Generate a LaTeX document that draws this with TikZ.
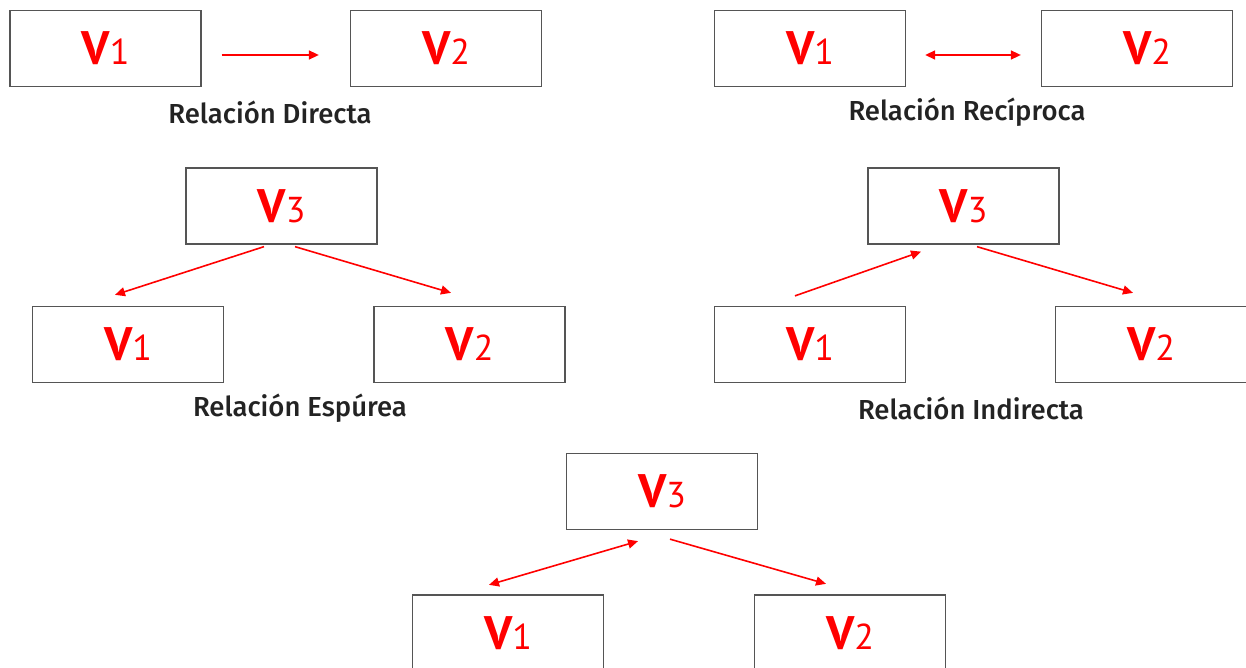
\documentclass[tikz,border=0pt]{standalone}
\usepackage{fontspec}
\setmainfont{PT Sans}
\newfontfamily\labfont{Fira Sans}[UprightFont=* Medium]
\usetikzlibrary{arrows.meta,calc}
\definecolor{vred}{RGB}{255,0,0}
\definecolor{boxgray}{RGB}{85,85,85}
\definecolor{lbl}{RGB}{35,35,35}
\tikzset{
 vbox/.style={draw=boxgray, line width=1.3pt, minimum width=191pt, minimum height=76pt, inner sep=0pt, text=vred, font=\bfseries\fontsize{47}{47}\selectfont},
 rel/.style={vred, line width=1.6pt, -{Triangle[length=10pt,width=9pt]}},
 birel/.style={vred, line width=1.6pt, {Triangle[length=10pt,width=9pt]}-{Triangle[length=10pt,width=9pt]}},
 lab/.style={text=lbl, font=\labfont\fontsize{27.5}{27.5}\selectfont, inner sep=0pt}
}
\newcommand{\vv}[1]{V{\fontsize{36}{36}\selectfont\mdseries #1}}
\begin{document}
\begin{tikzpicture}[x=1pt,y=-1pt]
\useasboundingbox (0,0) rectangle (1246,668);
% Relacion Directa
\node[vbox] (d1) at (105.5,48.5) {\vv{1}};
\node[vbox] (d2) at (446,48.5) {\vv{2}};
\coordinate (da) at ($(d1.east)+(20,6.5)$);
\coordinate (db) at ($(d2.west)+(-31,6.5)$);
\draw[rel] (da) -- (db);
\node[lab] (ld) at (270,112) {Relación Directa};
% Relacion Reciproca
\node[vbox] (r1) at (810,48.5) {\vv{1}};
\node[vbox] (r2) at (1137,48.5) {\hspace*{20pt}\vv{2}};
\coordinate (ra) at ($(r1.east)+(19,6.5)$);
\coordinate (rb) at ($(r2.west)+(-20,6.5)$);
\draw[birel] (ra) -- (rb);
\node[lab] (lr) at (967,112) {Relación Recíproca};
% Relacion Espurea
\node[vbox] (e3) at (281.5,206) {\vv{3}};
\node[vbox] (e1) at (128,344.5) {\vv{1}};
\node[vbox] (e2) at (469.5,344.5) {\vv{2}};
\coordinate (ea) at ($(e3.south)+(-17.5,2)$);
\coordinate (eb) at ($(e1.north)+(-13,-11)$);
\coordinate (ec) at ($(e3.south)+(13.5,2)$);
\coordinate (ed) at ($(e2.north)+(-18.5,-13)$);
\draw[rel] (ea) -- (eb);
\draw[rel] (ec) -- (ed);
\node[lab] (le) at (300,408) {Relación Espúrea};
% Relacion Indirecta
\node[vbox] (i3) at (963.5,206) {\vv{3}};
\node[vbox] (i1) at (810,344.5) {\vv{1}};
\node[vbox] (i2) at (1151,344.5) {\vv{2}};
\coordinate (ia) at ($(i1.north)+(-15,-10)$);
\coordinate (ib) at ($(i3.south)+(-42.5,7)$);
\coordinate (ic) at ($(i3.south)+(13.5,2)$);
\coordinate (id) at ($(i2.north)+(-18,-13)$);
\draw[rel] (ia) -- (ib);
\draw[rel] (ic) -- (id);
\node[lab] (li) at (971,408) {Relación Indirecta};
% Bottom
\node[vbox] (b3) at (662,491.5) {\vv{3}};
\node[vbox] (b1) at (508,633) {\vv{1}};
\node[vbox] (b2) at (850,633) {\vv{2}};
\coordinate (ba) at ($(b1.north)+(-19,-9.5)$);
\coordinate (bb) at ($(b3.south)+(-24,11)$);
\coordinate (bc) at ($(b3.south)+(8,9)$);
\coordinate (bd) at ($(b2.north)+(-24,-10.5)$);
\draw[birel] (ba) -- (bb);
\draw[rel] (bc) -- (bd);
\end{tikzpicture}
\end{document}
